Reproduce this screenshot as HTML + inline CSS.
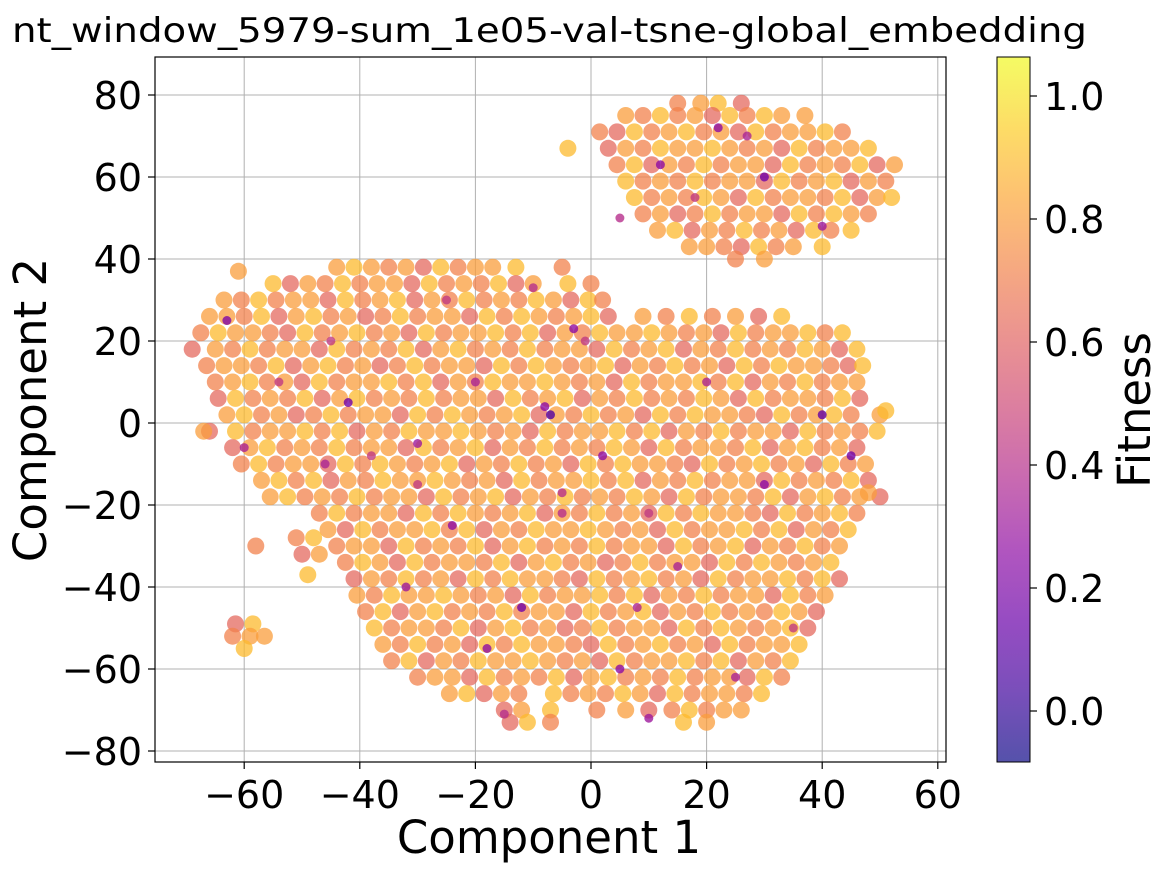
<!DOCTYPE html>
<html><head><meta charset="utf-8"><style>
html,body{margin:0;padding:0;background:#fff;}
svg{display:block;font-family:"DejaVu Sans","Liberation Sans",sans-serif;}
</style></head><body>
<svg id="chart" width="1163" height="872" viewBox="0 0 1163 872" xmlns="http://www.w3.org/2000/svg">
<text x="12" y="42" font-size="34" textLength="1075" lengthAdjust="spacingAndGlyphs" fill="#000">nt_window_5979-sum_1e05-val-tsne-global_embedding</text>
<g id="grid"></g>
<g id="points"></g>
<rect x="155" y="57" width="791" height="705" fill="none" stroke="#000" stroke-width="1.2"/>
<g id="xticks"></g>
<g id="yticks"></g>
<text x="549" y="853" font-size="45" text-anchor="middle">Component 1</text>
<text transform="translate(46,410) rotate(-90)" font-size="45" text-anchor="middle">Component 2</text>
<defs><linearGradient id="cbgrad" x1="0" y1="1" x2="0" y2="0"></linearGradient></defs>
<rect x="997" y="57" width="33" height="705" fill="url(#cbgrad)" fill-opacity="0.7"/>
<rect x="997" y="57" width="33" height="705" fill="none" stroke="#000" stroke-width="1"/>
<g id="cbticks"></g>
<text transform="translate(1150,410) rotate(-90)" font-size="45" text-anchor="middle">Fitness</text>
</svg>
<script>
const xTicks=[-60,-40,-20,0,20,40,60];
const yTicks=[-80,-60,-40,-20,0,20,40,60,80];
const cbTicks=[0.0,0.2,0.4,0.6,0.8,1.0];
const cbMin=-0.083, cbMax=1.19;
const rowY=[38,34,30,26,22,18,14,10,6,2,-2,-6,-10,-14,-18,-22,-26,-30,-34,-38,-42,-46,-50,-54,-58,-62,-66,-70,-73,
78,75,71,67,63,59,55,51,47,43,40,
-49,-52,-55,-28,-32,-30,-37,37,-2,3,-17];
const rowX=[
"-44 -41 -38 -35 -32 -29 -26 -23 -20 -17 -13 -5",
"-55 -52 -49 -46 -43 -40 -37 -34 -31 -28 -25 -22 -19 -16 -13 -10 -4 0",
"-63.5 -60.5 -57.5 -54.5 -51.5 -48.5 -45.5 -42.5 -39.5 -36.5 -33.5 -30.5 -27.5 -24.5 -21.5 -18.5 -15.5 -12.5 -9.5 -6.5 -3.5 -0.5 2",
"-66 -63 -60 -57 -54 -51 -48 -45 -42 -39 -36 -33 -30 -27 -24 -21 -18 -15 -12 -9 -6 -3 0 3 9 13 17 21 25 29 33",
"-67.5 -64.5 -61.5 -58.5 -55.5 -52.5 -49.5 -46.5 -43.5 -40.5 -37.5 -34.5 -31.5 -28.5 -25.5 -22.5 -19.5 -16.5 -13.5 -10.5 -7.5 -4.5 -1.5 1.5 4.5 7.5 10.5 13.5 16.5 19.5 22.5 25.5 28.5 31.5 34.5 37.5 40.5 43.5",
"-69 -65 -62 -59 -56 -53 -50 -47 -44 -41 -38 -35 -32 -29 -26 -23 -20 -17 -14 -11 -8 -5 -2 1 4 7 10 13 16 19 22 25 28 31 34 37 40 43 46",
"-66.5 -63.5 -60.5 -57.5 -54.5 -51.5 -48.5 -45.5 -42.5 -39.5 -36.5 -33.5 -30.5 -27.5 -24.5 -21.5 -18.5 -15.5 -12.5 -9.5 -6.5 -3.5 -0.5 2.5 5.5 8.5 11.5 14.5 17.5 20.5 23.5 26.5 29.5 32.5 35.5 38.5 41.5 44.5 47",
"-65 -62 -59 -56 -53 -50 -47 -44 -41 -38 -35 -32 -29 -26 -23 -20 -17 -14 -11 -8 -5 -2 1 4 7 10 13 16 19 22 25 28 31 34 37 40 43 46",
"-64.5 -61.5 -58.5 -55.5 -52.5 -49.5 -46.5 -43.5 -40.5 -37.5 -34.5 -31.5 -28.5 -25.5 -22.5 -19.5 -16.5 -13.5 -10.5 -7.5 -4.5 -1.5 1.5 4.5 7.5 10.5 13.5 16.5 19.5 22.5 25.5 28.5 31.5 34.5 37.5 40.5 43.5 46.5",
"-63 -60 -57 -54 -51 -48 -45 -42 -39 -36 -33 -30 -27 -24 -21 -18 -15 -12 -9 -6 -3 0 3 6 9 12 15 18 21 24 27 30 33 36 39 42 45 50",
"-66 -61.5 -58.5 -55.5 -52.5 -49.5 -46.5 -43.5 -40.5 -37.5 -34.5 -31.5 -28.5 -25.5 -22.5 -19.5 -16.5 -13.5 -10.5 -7.5 -4.5 -1.5 1.5 4.5 7.5 10.5 13.5 16.5 19.5 22.5 25.5 28.5 31.5 34.5 37.5 40.5 43.5 46.5 49.5",
"-62 -59 -56 -53 -50 -47 -44 -41 -38 -35 -32 -29 -26 -23 -20 -17 -14 -11 -8 -5 -2 1 4 7 10 13 16 19 22 25 28 31 34 37 40 43 46",
"-60.5 -57.5 -54.5 -51.5 -48.5 -45.5 -42.5 -39.5 -36.5 -33.5 -30.5 -27.5 -24.5 -21.5 -18.5 -15.5 -12.5 -9.5 -6.5 -3.5 -0.5 2.5 5.5 8.5 11.5 14.5 17.5 20.5 23.5 26.5 29.5 32.5 35.5 38.5 41.5 44.5 47.5",
"-57 -54 -51 -48 -45 -42 -39 -36 -33 -30 -27 -24 -21 -18 -15 -12 -9 -6 -3 0 3 6 9 12 15 18 21 24 27 30 33 36 39 42 45 48",
"-55.5 -52.5 -49.5 -46.5 -43.5 -40.5 -37.5 -34.5 -31.5 -28.5 -25.5 -22.5 -19.5 -16.5 -13.5 -10.5 -7.5 -4.5 -1.5 1.5 4.5 7.5 10.5 13.5 16.5 19.5 22.5 25.5 28.5 31.5 34.5 37.5 40.5 43.5 46.5 50",
"-47 -44 -41 -38 -35 -32 -29 -26 -23 -20 -17 -14 -11 -8 -5 -2 1 4 7 10 13 16 19 22 25 28 31 34 37 40 43 46",
"-45.5 -42.5 -39.5 -36.5 -33.5 -30.5 -27.5 -24.5 -21.5 -18.5 -15.5 -12.5 -9.5 -6.5 -3.5 -0.5 2.5 5.5 8.5 11.5 14.5 17.5 20.5 23.5 26.5 29.5 32.5 35.5 38.5 41.5 44.5",
"-44 -41 -38 -35 -32 -29 -26 -23 -20 -17 -14 -11 -8 -5 -2 1 4 7 10 13 16 19 22 25 28 31 34 37 40 43",
"-42.5 -39.5 -36.5 -33.5 -30.5 -27.5 -24.5 -21.5 -18.5 -15.5 -12.5 -9.5 -6.5 -3.5 -0.5 2.5 5.5 8.5 11.5 14.5 17.5 20.5 23.5 26.5 29.5 32.5 35.5 38.5 41.5",
"-41 -38 -35 -32 -29 -26 -23 -20 -17 -14 -11 -8 -5 -2 1 4 7 10 13 16 19 22 25 28 31 34 37 40 43",
"-40.5 -37.5 -34.5 -31.5 -28.5 -25.5 -22.5 -19.5 -16.5 -13.5 -10.5 -7.5 -4.5 -1.5 1.5 4.5 7.5 10.5 13.5 16.5 19.5 22.5 25.5 28.5 31.5 34.5 37.5 40.5",
"-39 -36 -33 -30 -27 -24 -21 -18 -15 -12 -9 -6 -3 0 3 6 9 12 15 18 21 24 27 30 33 36 39",
"-37.5 -34.5 -31.5 -28.5 -25.5 -22.5 -19.5 -16.5 -13.5 -10.5 -7.5 -4.5 -1.5 1.5 4.5 7.5 10.5 13.5 16.5 19.5 22.5 25.5 28.5 31.5 34.5 37.5",
"-36 -33 -30 -27 -24 -21 -18 -15 -12 -9 -6 -3 0 3 6 9 12 15 18 21 24 27 30 33 36",
"-34.5 -31.5 -28.5 -25.5 -22.5 -19.5 -16.5 -13.5 -10.5 -7.5 -4.5 -1.5 1.5 4.5 7.5 10.5 13.5 16.5 19.5 22.5 25.5 28.5 31.5 34.5",
"-30 -27 -24 -21 -18 -15 -12 -9 -6 -3 0 3 6 9 12 15 18 21 24 27 30 33",
"-24.5 -21.5 -18.5 -15.5 -12.5 -6.5 -3.5 -0.5 2.5 5.5 8.5 11.5 14.5 17.5 20.5 23.5 26.5 29.5",
"-15 -12 -7 1 6 10 14 17 20 23 26",
"-14 -11 -7 16 20",
"15 19 22 26",
"6 9 12 15 18 21 24 27 30 33 37",
"1.5 4.5 7.5 10.5 13.5 16.5 19.5 22.5 25.5 28.5 31.5 34.5 37.5 40.5 43.5",
"-4 3 6 9 12 15 18 21 24 27 30 33 36 39 42 45 48",
"4.5 7.5 10.5 13.5 16.5 19.5 22.5 25.5 28.5 31.5 34.5 37.5 40.5 43.5 46.5 49.5 52.5",
"6 9 12 15 18 21 24 27 30 33 36 39 42 45 48 51",
"7.5 10.5 13.5 16.5 19.5 22.5 25.5 28.5 31.5 34.5 37.5 40.5 43.5 46.5 49.5 52",
"9 12 15 18 21 24 27 30 33 36 39 42 45 48",
"11.5 14.5 17.5 20.5 23.5 26.5 29.5 32.5 35.5 38.5 41.5 45",
"17 20 23 26 29 32 35 40",
"25 30",
"-61.5 -58.5",
"-62 -59 -56.5",
"-60",
"-51 -48",
"-50 -47",
"-58",
"-49",
"-61",
"-67",
"51",
"48"];
const fitnessCodes="8987869788979687978869787968978797886978968797879869788796897867978869798789687978697988769789786978897968798";
const lowX=[-42,-46,-30,-24,-5,-7,-3,-1,-20,-30,-38,-12,-5,2,10,15,30,40,35,25,10,-15,-18,-54,-63,-60,22,30,5,18,40,12,27,45,-25,-10,5,20,-45,-32,8,-8];
const lowY=[5,-10,-15,-25,-17,2,23,20,10,-5,-8,-45,-22,-8,-22,-35,-15,2,-50,-62,-72,-71,-55,10,25,-6,72,60,50,55,48,63,70,-8,30,33,-60,10,20,-40,-45,4];
const lowF=[0.2,0.4,0.5,0.3,0.45,0.1,0.3,0.5,0.4,0.35,0.5,0.2,0.45,0.3,0.5,0.4,0.3,0.15,0.5,0.4,0.35,0.45,0.3,0.5,0.25,0.4,0.3,0.2,0.45,0.5,0.35,0.3,0.4,0.2,0.5,0.45,0.3,0.4,0.5,0.35,0.4,0.3];

const NS="http://www.w3.org/2000/svg";
const X0=155,X1=946,Y0=57,Y1=762;
function sx(v){return 591+v*5.78;}
function sy(v){return 423-v*4.1;}
function cy(v){return 711-v*615;}
const stops=["#0d0887","#41049d","#6a00a8","#8f0da4","#b12a90","#cc4778","#e16462","#f2844b","#fca636","#fcce25","#f0f921"];
function hex(h){return [1,3,5].map(i=>parseInt(h.substr(i,2),16));}
function plasma(t){t=Math.max(0,Math.min(1,t));const p=t*10,i=Math.min(9,Math.floor(p)),f=p-i;const a=hex(stops[i]),b=hex(stops[i+1]);return "rgb("+a.map((v,k)=>Math.round(v+(b[k]-v)*f)).join(",")+")";}
function col(f){return plasma((f-cbMin)/(cbMax-cbMin));}
function mk(tag,attrs,parent){const e=document.createElementNS(NS,tag);for(const k in attrs)e.setAttribute(k,attrs[k]);parent.appendChild(e);return e;}

const grid=document.getElementById('grid');
xTicks.forEach(v=>{const x=sx(v);if(x<X0||x>X1)return;
 const l=mk('line',{x1:x,x2:x,y1:Y0,y2:Y1,stroke:'#b0b0b0','stroke-width':1},grid);
 
 });
yTicks.forEach(v=>{const y=sy(v);
 const l=mk('line',{x1:X0,x2:X1,y1:y,y2:y,stroke:'#b0b0b0','stroke-width':1},grid);
 
 });

const pts=document.getElementById('points');
let k=0;
rowY.forEach((yv,r)=>{rowX[r].split(' ').map(Number).forEach(xv=>{
 const d=+fitnessCodes[k%fitnessCodes.length];k++;
 const f=0.1+d*0.1;
 const c=mk('circle',{cx:sx(xv).toFixed(1),cy:sy(yv).toFixed(1),r:8.5,fill:col(f),'fill-opacity':0.75},pts);
 
 
});});
lowX.forEach((xv,i)=>{
 const c=mk('circle',{cx:sx(xv).toFixed(1),cy:sy(lowY[i]).toFixed(1),r:4.5,fill:col(lowF[i]),'fill-opacity':0.8},pts);
 
 
});

const xt=document.getElementById('xticks');
xTicks.forEach(v=>{const x=sx(v);
 const l=mk('line',{x1:x,x2:x,y1:Y1,y2:Y1+7,stroke:'#000','stroke-width':1.2},xt);
 
 
 const t=mk('text',{x:x,y:808,'font-size':38,'text-anchor':'middle'},xt);
 t.textContent=(v<0?'\u2212'+(-v):String(v));
 
 });
const yt=document.getElementById('yticks');
yTicks.forEach(v=>{const y=sy(v);
 const l=mk('line',{x1:X0-7,x2:X0,y1:y,y2:y,stroke:'#000','stroke-width':1.2},yt);
 
 
 const t=mk('text',{x:142,y:y+14,'font-size':38,'text-anchor':'end'},yt);
 t.textContent=(v<0?'\u2212'+(-v):String(v));
 
 });

const g=document.getElementById('cbgrad');
for(let i=0;i<=20;i++){const t=i/20;mk('stop',{offset:t,'stop-color':plasma(t)},g);}
const cbt=document.getElementById('cbticks');
cbTicks.forEach(v=>{const y=cy(v);
 const l=mk('line',{x1:1030,x2:1037,y1:y,y2:y,stroke:'#000','stroke-width':1.2},cbt);
 
 
 const t=mk('text',{x:1044,y:y+14,'font-size':38},cbt);
 t.textContent=v.toFixed(1);
 
 });
</script>
</body></html>
